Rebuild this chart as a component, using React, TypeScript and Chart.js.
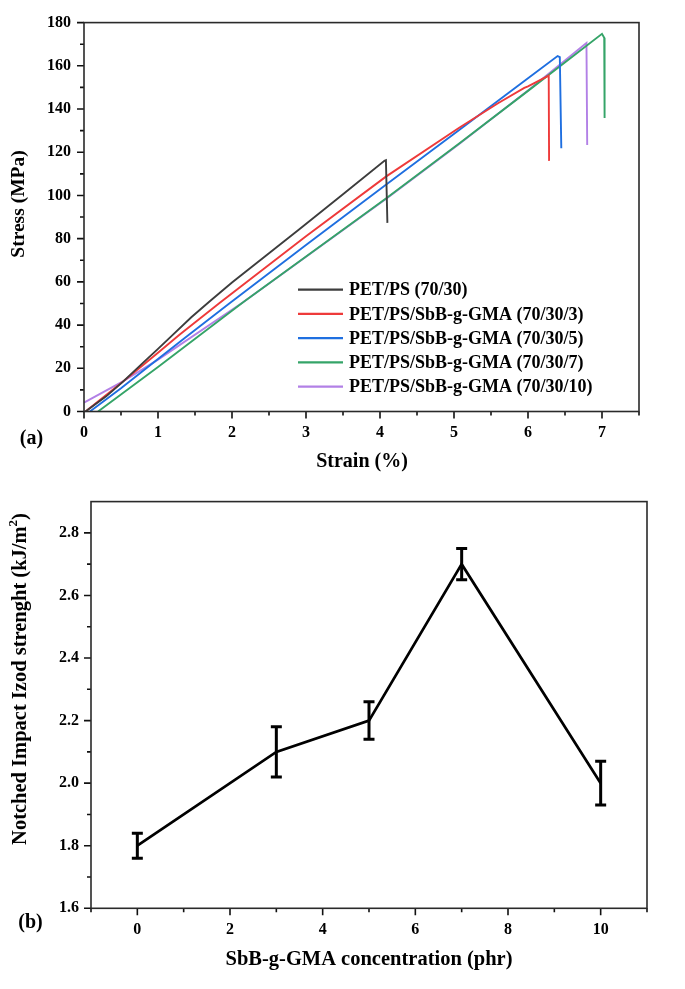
import React, { useEffect, useRef } from "react";
import { Chart, registerables } from "chart.js";

Chart.register(...registerables);

const FONT = "'Liberation Serif', 'Times New Roman', serif";

// ---------- Panel (a): stress-strain ----------
const SERIES_LABELS = [
  "PET/PS (70/30)",
  "PET/PS/SbB-g-GMA (70/30/3)",
  "PET/PS/SbB-g-GMA (70/30/5)",
  "PET/PS/SbB-g-GMA (70/30/7)",
  "PET/PS/SbB-g-GMA (70/30/10)",
];
const SERIES_COLORS = ["#3d3d3d", "#ee3a3a", "#1f6fe0", "#35a468", "#b280e6"];

const STRAIN_0 = [0.02, 0.3, 0.52, 0.8, 1.0, 1.21, 1.45, 1.7, 2.0, 2.5, 2.91, 3.5, 4.06, 4.08, 4.1];
const STRESS_0 = [0, 7.0, 13.6, 22.6, 29.0, 35.8, 43.6, 51.0, 59.7, 73.3, 84.4, 100.5, 116.0, 116.3, 87.3];

const STRAIN_3 = [0.02, 0.52, 1.0, 1.29, 1.84, 3.0, 4.08, 5.07, 5.6, 5.95, 6.0, 6.28, 6.285];
const STRESS_3 = [0, 13.6, 27.2, 35.5, 50.5, 81.1, 108.7, 131.3, 142.8, 149.8, 150.5, 155.5, 116];

const STRAIN_5 = [0.08, 0.5, 1.0, 1.37, 1.95, 3.0, 4.08, 5.07, 6.0, 6.4, 6.43, 6.45];
const STRESS_5 = [0, 10.8, 24.3, 34.2, 49.6, 77.1, 104.9, 130.3, 154.2, 164.5, 164.0, 121.8];

const STRAIN_7 = [0.19, 1.0, 2.15, 4.08, 5.07, 6.0, 7.0, 7.03, 7.035];
const STRESS_7 = [0, 20.6, 50.6, 98.6, 124.0, 148.4, 174.8, 173.0, 135.9];

const STRAIN_10 = [0, 0.52, 1.0, 2.15, 4.08, 5.07, 6.0, 6.79, 6.8];
const STRESS_10 = [4.1, 13.8, 24.0, 50.6, 98.4, 123.8, 148.6, 170.6, 123.4];

const STRAIN_TICKS = [0, 1, 2, 3, 4, 5, 6, 7];
const STRAIN_MINOR = [0.5, 1.5, 2.5, 3.5, 4.5, 5.5, 6.5, 7.5];
const STRESS_TICKS = [0, 20, 40, 60, 80, 100, 120, 140, 160, 180];
const STRESS_MINOR = [10, 30, 50, 70, 90, 110, 130, 150, 170];

// ---------- Panel (b): impact strength ----------
const CONC = [0, 3, 5, 7, 10];
const IMPACT = [1.8, 2.1, 2.2, 2.7, 2.0];
const ERR_UP = [0.04, 0.08, 0.06, 0.05, 0.07];
const ERR_DOWN = [0.04, 0.08, 0.06, 0.05, 0.07];
const CONC_TICKS = [0, 2, 4, 6, 8, 10];
const CONC_MINOR = [-1, 1, 3, 5, 7, 9, 11];
const IMPACT_TICKS = [1.6, 1.8, 2.0, 2.2, 2.4, 2.6, 2.8];
const IMPACT_MINOR = [1.7, 1.9, 2.1, 2.3, 2.5, 2.7];

const tickFont = { family: FONT, size: 16, weight: "bold" as const };

function drawFrameAndTicks(chart: any, xMaj: number[], xMin: number[], yMaj: number[], yMin: number[]) {
  const { ctx, chartArea, scales } = chart;
  const { left, right, top, bottom } = chartArea;
  const x = scales.x;
  const y = scales.y;
  ctx.save();
  ctx.strokeStyle = "#111";
  ctx.lineWidth = 1.6;
  ctx.beginPath();
  xMaj.forEach((v) => {
    const p = x.getPixelForValue(v);
    ctx.moveTo(p, bottom);
    ctx.lineTo(p, bottom + 7);
  });
  xMin.forEach((v) => {
    const p = x.getPixelForValue(v);
    ctx.moveTo(p, bottom);
    ctx.lineTo(p, bottom + 4);
  });
  yMaj.forEach((v) => {
    const p = y.getPixelForValue(v);
    ctx.moveTo(left, p);
    ctx.lineTo(left - 7, p);
  });
  yMin.forEach((v) => {
    const p = y.getPixelForValue(v);
    ctx.moveTo(left, p);
    ctx.lineTo(left - 4, p);
  });
  ctx.stroke();
  ctx.strokeStyle = "#2a2a2a";
  ctx.lineWidth = 1.6;
  ctx.strokeRect(left, top, right - left, bottom - top);
  ctx.restore();
}

function drawText(ctx: CanvasRenderingContext2D, text: string, x: number, y: number, size: number, rotate = false) {
  ctx.save();
  ctx.fillStyle = "#000";
  ctx.font = `bold ${size}px ${FONT}`;
  ctx.textAlign = "center";
  ctx.textBaseline = "middle";
  ctx.translate(x, y);
  if (rotate) ctx.rotate(-Math.PI / 2);
  ctx.fillText(text, 0, 0);
  ctx.restore();
}

function StressStrain() {
  const ref = useRef<HTMLCanvasElement | null>(null);
  useEffect(() => {
    if (!ref.current) return;
    const xs = [STRAIN_0, STRAIN_3, STRAIN_5, STRAIN_7, STRAIN_10];
    const ys = [STRESS_0, STRESS_3, STRESS_5, STRESS_7, STRESS_10];
    const datasets = SERIES_LABELS.map((label, k) => ({
      label,
      data: xs[k].map((v, i) => ({ x: v, y: ys[k][i] })),
      borderColor: SERIES_COLORS[k],
      backgroundColor: SERIES_COLORS[k],
      borderWidth: 1.9,
      pointRadius: 0,
      tension: 0,
      fill: false,
    }));
    const plugin = {
      id: "decorA",
      afterDraw(chart: any) {
        const ctx = chart.ctx as CanvasRenderingContext2D;
        drawFrameAndTicks(chart, STRAIN_TICKS, STRAIN_MINOR, STRESS_TICKS, STRESS_MINOR);
        chart.data.datasets.forEach((ds: any, i: number) => {
          const yy = 289.6 + i * 24.25;
          ctx.save();
          ctx.strokeStyle = ds.borderColor;
          ctx.lineWidth = 2.2;
          ctx.beginPath();
          ctx.moveTo(298, yy);
          ctx.lineTo(343, yy);
          ctx.stroke();
          ctx.fillStyle = "#000";
          ctx.font = `bold 18px ${FONT}`;
          ctx.textAlign = "left";
          ctx.textBaseline = "middle";
          ctx.fillText(ds.label, 349, yy + 1);
          ctx.restore();
        });
        drawText(ctx, "Strain (%)", 362, 461.7, 20);
        drawText(ctx, "Stress (MPa)", 19, 204, 19.5, true);
        drawText(ctx, "(a)", 31.5, 439, 20);
      },
    };
    const chart = new Chart(ref.current, {
      type: "line",
      data: { datasets },
      options: {
        responsive: false,
        animation: false,
        layout: { padding: { left: 0, right: 46, top: 15, bottom: 0 } },
        plugins: { legend: { display: false }, tooltip: { enabled: false } },
        scales: {
          x: {
            type: "linear",
            min: 0,
            max: 7.5,
            afterBuildTicks: (s: any) => {
              s.ticks = STRAIN_TICKS.map((v) => ({ value: v }));
            },
            afterFit: (s: any) => {
              s.height = 68.5;
            },
            grid: { display: false, drawTicks: false, tickLength: 0 },
            border: { display: false },
            ticks: { padding: 12, font: tickFont, color: "#000", autoSkip: false, maxRotation: 0 },
          },
          y: {
            type: "linear",
            min: 0,
            max: 180,
            afterBuildTicks: (s: any) => {
              s.ticks = STRESS_TICKS.map((v) => ({ value: v }));
            },
            afterFit: (s: any) => {
              s.width = 84;
            },
            grid: { display: false, drawTicks: false, tickLength: 0 },
            border: { display: false },
            ticks: { padding: 13, font: tickFont, color: "#000", autoSkip: false },
          },
        },
      },
      plugins: [plugin],
    } as any);
    return () => chart.destroy();
  }, []);
  return <canvas ref={ref} width={685} height={480} style={{ display: "block" }} />;
}

function ImpactChart() {
  const ref = useRef<HTMLCanvasElement | null>(null);
  useEffect(() => {
    if (!ref.current) return;
    const plugin = {
      id: "decorB",
      afterDatasetsDraw(chart: any) {
        const { ctx, scales } = chart;
        const x = scales.x;
        const y = scales.y;
        ctx.save();
        ctx.strokeStyle = "#000";
        ctx.lineWidth = 3;
        ctx.beginPath();
        CONC.forEach((c, i) => {
          const px = x.getPixelForValue(c);
          const pt = y.getPixelForValue(IMPACT[i] + ERR_UP[i]);
          const pb = y.getPixelForValue(IMPACT[i] - ERR_DOWN[i]);
          ctx.moveTo(px, pt);
          ctx.lineTo(px, pb);
          ctx.moveTo(px - 5.5, pt);
          ctx.lineTo(px + 5.5, pt);
          ctx.moveTo(px - 5.5, pb);
          ctx.lineTo(px + 5.5, pb);
        });
        ctx.stroke();
        ctx.restore();
      },
      afterDraw(chart: any) {
        const ctx = chart.ctx as CanvasRenderingContext2D;
        drawFrameAndTicks(chart, CONC_TICKS, CONC_MINOR, IMPACT_TICKS, IMPACT_MINOR);
        drawText(ctx, "SbB-g-GMA concentration (phr)", 369, 480, 20.5);
        drawText(ctx, "(b)", 30.5, 443, 20);
        ctx.save();
        ctx.fillStyle = "#000";
        ctx.translate(21, 199);
        ctx.rotate(-Math.PI / 2);
        ctx.textBaseline = "middle";
        ctx.textAlign = "left";
        const main = "Notched Impact Izod strenght (kJ/m";
        const sup = "2";
        const tail = ")";
        ctx.font = `bold 20.5px ${FONT}`;
        const w1 = ctx.measureText(main).width;
        const w3 = ctx.measureText(tail).width;
        ctx.font = `bold 13px ${FONT}`;
        const w2 = ctx.measureText(sup).width;
        const total = w1 + w2 + w3;
        let cx = -total / 2;
        ctx.font = `bold 20.5px ${FONT}`;
        ctx.fillText(main, cx, 0);
        cx += w1;
        ctx.font = `bold 13px ${FONT}`;
        ctx.fillText(sup, cx, -7);
        cx += w2;
        ctx.font = `bold 20.5px ${FONT}`;
        ctx.fillText(tail, cx, 0);
        ctx.restore();
      },
    };
    const chart = new Chart(ref.current, {
      type: "line",
      data: {
        datasets: [
          {
            label: "Notched Impact Izod strenght",
            data: CONC.map((c, i) => ({ x: c, y: IMPACT[i] })),
            borderColor: "#000",
            backgroundColor: "#000",
            borderWidth: 2.7,
            pointRadius: 0,
            tension: 0,
            fill: false,
          },
        ],
      },
      options: {
        responsive: false,
        animation: false,
        layout: { padding: { left: 0, right: 38, top: 5.7, bottom: 0 } },
        plugins: { legend: { display: false }, tooltip: { enabled: false } },
        scales: {
          x: {
            type: "linear",
            min: -1,
            max: 11,
            afterBuildTicks: (s: any) => {
              s.ticks = CONC_TICKS.map((v) => ({ value: v }));
            },
            afterFit: (s: any) => {
              s.height = 80.7;
            },
            grid: { display: false, drawTicks: false, tickLength: 0 },
            border: { display: false },
            ticks: { padding: 12, font: tickFont, color: "#000", autoSkip: false, maxRotation: 0 },
          },
          y: {
            type: "linear",
            min: 1.6,
            max: 2.9,
            afterBuildTicks: (s: any) => {
              s.ticks = IMPACT_TICKS.map((v) => ({ value: v }));
            },
            afterFit: (s: any) => {
              s.width = 91;
            },
            grid: { display: false, drawTicks: false, tickLength: 0 },
            border: { display: false },
            ticks: {
              padding: 12,
              font: tickFont,
              color: "#000",
              autoSkip: false,
              callback: (v: any) => Number(v).toFixed(1),
            },
          },
        },
      },
      plugins: [plugin],
    } as any);
    return () => chart.destroy();
  }, []);
  return <canvas ref={ref} width={685} height={509} style={{ display: "block" }} />;
}

export default function App() {
  return (
    <div style={{ position: "absolute", left: 0, top: 0, width: 685, height: 989, background: "#fff" }}>
      <StressStrain />
      <ImpactChart />
    </div>
  );
}
